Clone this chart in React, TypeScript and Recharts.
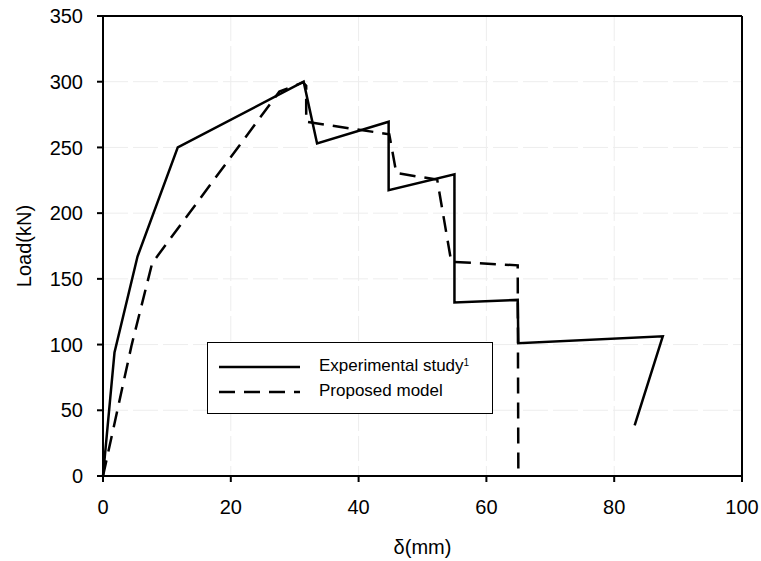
import { LineChart, Line, XAxis, YAxis, CartesianGrid, ReferenceLine } from 'recharts'

// deflection (mm) / load (kN)
const expDeflection = [0, 1.8, 5.4, 11.7, 31.4, 33.5, 44.7, 44.7, 55, 55, 64.9, 65, 87.6, 83.2]
const expLoad = [0, 94, 167, 250, 300, 253, 269.5, 217.5, 229.5, 132, 134, 101, 106.3, 38.6]

const modelDeflection = [0, 4.5, 7.7, 27.6, 31.3, 31.8, 31.8, 44.8, 45.9, 52.3, 54.5, 64.9, 65]
const modelLoad = [0, 100, 162, 292.5, 299.5, 297, 269.5, 260, 230.5, 225.5, 163, 160.3, 0]

const xTicks = [0, 20, 40, 60, 80, 100]
const yTicks = [0, 50, 100, 150, 200, 250, 300, 350]

const expData = expDeflection.map((x, i) => ({ x, y: expLoad[i] }))
const modelData = modelDeflection.map((x, i) => ({ x, y: modelLoad[i] }))

const FONT = '"Liberation Sans", Arial, sans-serif'
const DASH = '16 9'

function LegendBox() {
  return (
    <div
      style={{
        position: 'absolute',
        left: 207,
        top: 342,
        width: 284,
        height: 70,
        border: '1px solid #000',
        background: '#fff',
        fontFamily: FONT,
        fontSize: 17,
        color: '#000',
      }}
    >
      <svg width={95} height={70} style={{ position: 'absolute', left: 0, top: 0 }}>
        <line x1={11} x2={92} y1={24} y2={24} stroke="#000" strokeWidth={2.5} />
        <line x1={11} x2={92} y1={49} y2={49} stroke="#000" strokeWidth={2.5} strokeDasharray={DASH} />
      </svg>
      <div style={{ position: 'absolute', left: 111, top: 13, lineHeight: '20px', whiteSpace: 'nowrap' }}>
        Experimental study<sup style={{ fontSize: 10, verticalAlign: 'top', position: 'relative', top: -3 }}>1</sup>
      </div>
      <div style={{ position: 'absolute', left: 111, top: 38, lineHeight: '20px', whiteSpace: 'nowrap' }}>
        Proposed model
      </div>
    </div>
  )
}

export default function App() {
  return (
    <div style={{ position: 'absolute', left: 0, top: 0, width: 761, height: 561, background: '#fff' }}>
      <LineChart width={761} height={561} margin={{ top: 16, right: 19, bottom: 0, left: 0 }}>
        <CartesianGrid stroke="#ededed" strokeDasharray="25 5" />
        <XAxis
          dataKey="x"
          type="number"
          domain={[0, 100]}
          ticks={xTicks}
          height={85}
          tickSize={6}
          tickMargin={18}
          stroke="#000"
          strokeWidth={2}
          tick={{ fill: '#000', fontSize: 20, fontFamily: FONT }}
          label={({ viewBox }: any) => (
            <text
              x={viewBox.x + viewBox.width / 2}
              y={viewBox.y + 78}
              textAnchor="middle"
              fontSize={20}
              fontFamily={FONT}
              fill="#000"
            >
              δ(mm)
            </text>
          )}
        />
        <YAxis
          dataKey="y"
          type="number"
          domain={[0, 350]}
          ticks={yTicks}
          width={103}
          tickSize={6}
          tickMargin={14}
          stroke="#000"
          strokeWidth={2}
          tick={{ fill: '#000', fontSize: 20, fontFamily: FONT }}
          label={({ viewBox }: any) => {
            const cx = 24
            const cy = viewBox.y + viewBox.height / 2
            return (
              <text
                x={cx}
                y={cy}
                transform={`rotate(-90 ${cx} ${cy})`}
                textAnchor="middle"
                dominantBaseline="central"
                fontSize={20}
                fontFamily={FONT}
                fill="#000"
              >
                Load(kN)
              </text>
            )
          }}
        />
        <ReferenceLine y={350} stroke="#000" strokeWidth={2} />
        <ReferenceLine x={100} stroke="#000" strokeWidth={2} />
        <Line
          data={expData}
          dataKey="y"
          type="linear"
          stroke="#000"
          strokeWidth={2.5}
          dot={false}
          activeDot={false}
          isAnimationActive={false}
        />
        <Line
          data={modelData}
          dataKey="y"
          type="linear"
          stroke="#000"
          strokeWidth={2.5}
          strokeDasharray={DASH}
          dot={false}
          activeDot={false}
          isAnimationActive={false}
        />
      </LineChart>
      <LegendBox />
    </div>
  )
}
